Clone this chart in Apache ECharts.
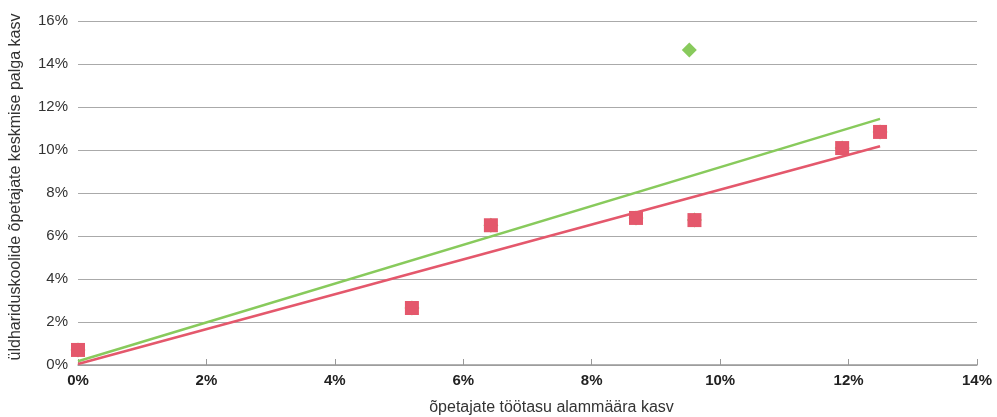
<!DOCTYPE html>
<html>
<head>
<meta charset="utf-8">
<script src="https://cdn.jsdelivr.net/npm/echarts@6/dist/echarts.min.js"></script>
<style>
  html, body { margin: 0; padding: 0; background: #fff; }
  #chart { width: 997px; height: 417px; }
</style>
</head>
<body>
<div id="chart"></div>
<script>
// point data, in percent
const minWageGrowth = [0, 5.2, 6.43, 8.69, 9.6, 11.9, 12.49];
const salaryGrowth = [0.7, 2.65, 6.5, 6.84, 6.74, 10.09, 10.84];
const outlierX = [9.52];
const outlierY = [14.65];
const xTicks = [0, 2, 4, 6, 8, 10, 12, 14];
const yTicks = [0, 2, 4, 6, 8, 10, 12, 14, 16];

const RED = "#e4586c";
const GREEN = "#88ca5c";

// least squares line over the given points, from min x to max x
function fitLine(xs, ys) {
  const n = xs.length;
  const mx = xs.reduce((a, b) => a + b, 0) / n;
  const my = ys.reduce((a, b) => a + b, 0) / n;
  let sxy = 0, sxx = 0;
  for (let i = 0; i < n; i++) {
    sxy += (xs[i] - mx) * (ys[i] - my);
    sxx += (xs[i] - mx) * (xs[i] - mx);
  }
  const k = sxy / sxx;
  const b = my - k * mx;
  const x0 = Math.min(...xs), x1 = Math.max(...xs);
  return [[x0, k * x0 + b], [x1, k * x1 + b]];
}

const redPts = minWageGrowth.map((x, i) => [x, salaryGrowth[i]]);
const allX = minWageGrowth.concat(outlierX);
const allY = salaryGrowth.concat(outlierY);
const greenPts = allX.map((x, i) => [x, allY[i]]);

const myChart = echarts.init(document.getElementById("chart"));
myChart.setOption({
  animation: false,
  textStyle: { fontFamily: "Liberation Sans, Arial, sans-serif" },
  grid: { left: 78, right: 20, top: 21, bottom: 52, containLabel: false, outerBoundsMode: "none" },
  xAxis: {
    type: "value",
    min: xTicks[0],
    max: xTicks[xTicks.length - 1],
    interval: 2,
    name: "õpetajate töötasu alammäära kasv",
    nameLocation: "middle",
    nameGap: 35,
    nameTextStyle: { fontSize: 16, color: "#333", padding: [0, 0, 0, 48] },
    axisLine: { show: true, lineStyle: { color: "#999", width: 1.5 } },
    axisTick: { show: true, inside: true, length: 6, lineStyle: { color: "#999" } },
    axisLabel: { formatter: "{value}%", fontSize: 15, fontWeight: "bold", color: "#222", margin: 8 },
    splitLine: { show: false }
  },
  yAxis: {
    type: "value",
    min: yTicks[0],
    max: yTicks[yTicks.length - 1],
    interval: 2,
    name: "üldhariduskoolide õpetajate keskmise palga kasv",
    nameLocation: "middle",
    nameGap: 54,
    nameTextStyle: { fontSize: 16, color: "#333", padding: [0, 0, 0, 12] },
    axisLine: { show: false },
    axisTick: { show: false },
    axisLabel: { formatter: "{value}%", fontSize: 15, color: "#333", margin: 10 },
    splitLine: { show: true, lineStyle: { color: "#aaa", width: 1.2 } }
  },
  series: [
    {
      name: "kõik",
      type: "scatter",
      symbol: "diamond",
      symbolSize: 15,
      itemStyle: { color: GREEN, opacity: 1 },
      data: greenPts,
      z: 2
    },
    {
      name: "ilma erandita",
      type: "scatter",
      symbol: "rect",
      symbolSize: 14,
      itemStyle: { color: RED, opacity: 1 },
      data: redPts,
      z: 3
    },
    {
      name: "trend kõik",
      type: "line",
      symbol: "none",
      lineStyle: { color: GREEN, width: 2.5 },
      data: fitLine(allX, allY),
      z: 4
    },
    {
      name: "trend ilma erandita",
      type: "line",
      symbol: "none",
      lineStyle: { color: RED, width: 2.5 },
      data: fitLine(minWageGrowth, salaryGrowth),
      z: 4
    }
  ]
});
</script>
</body>
</html>
